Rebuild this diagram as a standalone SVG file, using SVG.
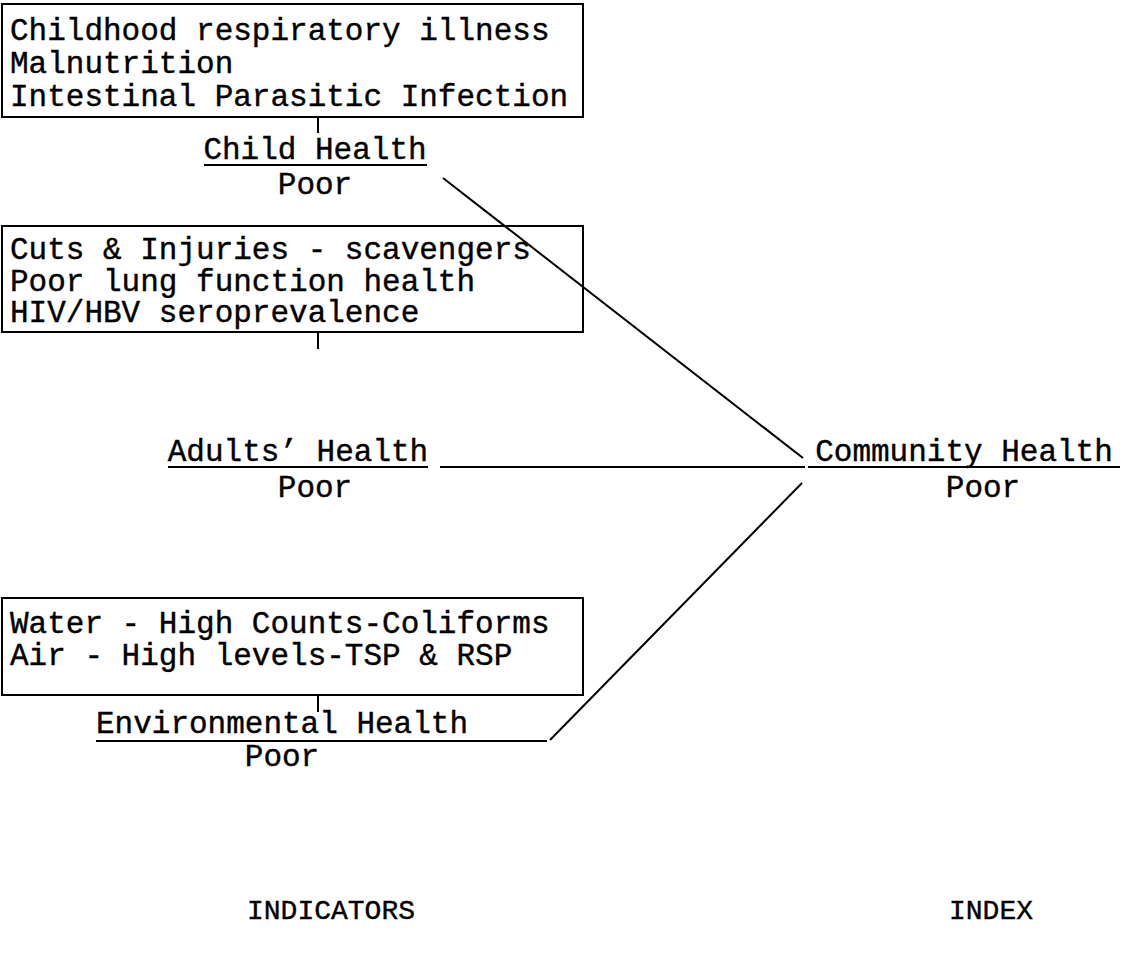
<svg xmlns="http://www.w3.org/2000/svg" width="1127" height="967" viewBox="0 0 1127 967">
<style>
.t{font-family:"Liberation Mono","Courier New",monospace;font-size:31px;fill:#000;stroke:#000;stroke-width:0.4}
.c{text-anchor:middle}
.box{fill:none;stroke:#000;stroke-width:2}
.ln{stroke:#000;stroke-width:2;fill:none}
.u{stroke:#000;stroke-width:2}
.s{font-size:28px}
</style>
<rect width="1127" height="967" fill="#fff"/>
<g id="child-box">
<rect class="box" x="2" y="4" width="581" height="113"/>
<text class="t" x="10" y="40">Childhood respiratory illness</text>
<text class="t" x="10" y="73">Malnutrition</text>
<text class="t" x="10" y="106">Intestinal Parasitic Infection</text>
</g>
<g id="child-health">
<text class="t c" x="315" y="159">Child Health</text>
<line class="u" x1="204" y1="165" x2="427" y2="165"/>
<text class="t c" x="315" y="194">Poor</text>
</g>
<g id="adult-box">
<rect class="box" x="2" y="226" width="581" height="106"/>
<text class="t" x="10" y="259">Cuts &amp; Injuries - scavengers</text>
<text class="t" x="10" y="291">Poor lung function health</text>
<text class="t" x="10" y="322">HIV/HBV seroprevalence</text>
</g>
<g id="adult-health">
<text class="t c" x="298" y="461">Adults’ Health</text>
<line class="u" x1="168" y1="467" x2="428" y2="467"/>
<text class="t c" x="315" y="497">Poor</text>
</g>
<g id="env-box">
<rect class="box" x="2" y="598" width="581" height="97"/>
<text class="t" x="10" y="633">Water - High Counts-Coliforms</text>
<text class="t" x="10" y="665">Air - High levels-TSP &amp; RSP</text>
</g>
<g id="env-health">
<text class="t c" x="282" y="733">Environmental Health</text>
<line class="u" x1="96" y1="741" x2="547" y2="741"/>
<text class="t c" x="282" y="766">Poor</text>
</g>
<g id="community-health">
<text class="t c" x="964" y="461">Community Health</text>
<line class="u" x1="808" y1="467" x2="1120" y2="467"/>
<text class="t c" x="983" y="497">Poor</text>
</g>
<g id="connectors">
<line class="ln" x1="318" y1="117" x2="318" y2="133"/>
<line class="ln" x1="318" y1="332" x2="318" y2="349"/>
<line class="ln" x1="318" y1="695" x2="318" y2="712"/>
<line class="ln" x1="443" y1="178" x2="803" y2="458"/>
<line class="ln" x1="440" y1="467" x2="805" y2="467"/>
<line class="ln" x1="550" y1="740" x2="802" y2="483"/>
</g>
<g id="labels">
<text class="t s c" x="331" y="919">INDICATORS</text>
<text class="t s c" x="991" y="919">INDEX</text>
</g>
</svg>
